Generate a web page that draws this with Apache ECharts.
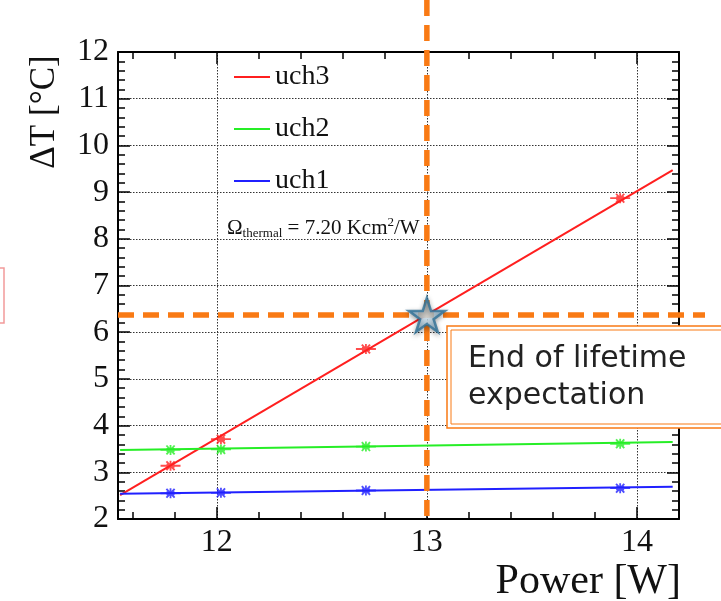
<!DOCTYPE html>
<html><head><meta charset="utf-8">
<script src="https://cdn.jsdelivr.net/npm/echarts@6/dist/echarts.min.js"></script>
<style>html,body{margin:0;padding:0;background:#fff}#c{width:721px;height:601px}</style>
</head><body><div id="c"></div>
<script>
// ---- data ----
const powerX = [11.78, 12.02, 12.71, 13.92];
const uch3 = [3.14, 3.71, 5.64, 8.87];
const uch2 = [3.48, 3.49, 3.55, 3.61];
const uch1 = [2.55, 2.56, 2.61, 2.66];
const fitX = [11.54, 14.17];
const fit3 = [2.51, 9.47];
const fit2 = [3.48, 3.65];
const fit1 = [2.54, 2.69];
const xMajor = [12, 13, 14];
const xMinor = [11.6, 11.8, 12.2, 12.4, 12.6, 12.8, 13.2, 13.4, 13.6, 13.8, 14.2];
const eolPoint = [13, 6.37];
const seriesNames = ['uch3', 'uch2', 'uch1'];
const boxLines = ['End of lifetime', 'expectation'];

const SERIF = 'Liberation Serif';
const ORANGE = '#f97a14';
const colors = { uch3: '#ff1f1f', uch2: '#26ee26', uch1: '#2020ff' };
const AST = 'path://M0,4.1H20V5.9H0Z M9.1,0H10.9V10H9.1Z M5.2,1.2L6.6,0L14.8,8.8L13.4,10Z M13.4,0L14.8,1.2L6.6,10L5.2,8.8Z M6,3H14V7H6Z';
const STAR = 'path://M50,0L61,35L98,35L68,57L79,91L50,70L21,91L32,57L2,35L39,35Z';

const chart = echarts.init(document.getElementById('c'), null, { renderer: 'canvas' });

function pts(ys) { return powerX.map((x, i) => [x, ys[i]]); }
function fit(ys) { return fitX.map((x, i) => [x, ys[i]]); }

const xCommon = { type: 'value', min: 11.53, max: 14.2 };
const frameLine = { show: true, onZero: false, lineStyle: { color: '#000', width: 2 } };

const option = {
  animation: false,
  backgroundColor: '#fff',
  grid: { left: 118, top: 52, right: 42, bottom: 82, containLabel: false },
  legend: {
    orient: 'vertical', left: 229, top: 58, itemWidth: 36, itemHeight: 2, itemGap: 24,
    data: seriesNames.map(n => ({ name: n, icon: 'rect' })),
    textStyle: { fontFamily: SERIF, fontSize: 28, color: '#111', lineHeight: 26 },
    selectedMode: false
  },
  xAxis: [
    Object.assign({}, xCommon, {
      position: 'bottom', axisLine: frameLine,
      axisTick: { inside: true, length: 12, customValues: xMajor, lineStyle: { color: '#000', width: 1.5 } },
      axisLabel: { customValues: xMajor, fontFamily: SERIF, fontSize: 32, color: '#111', margin: 8 },
      splitLine: { show: true, lineStyle: { type: [1.5, 1.5], color: '#333', width: 1 } }
    }),
    Object.assign({}, xCommon, {
      position: 'bottom', axisLine: { show: false },
      axisTick: { inside: true, length: 7, customValues: xMinor, lineStyle: { color: '#000', width: 1.5 } },
      axisLabel: { show: false }, splitLine: { show: false }
    }),
    Object.assign({}, xCommon, {
      position: 'top', axisLine: frameLine,
      axisTick: { inside: true, length: 12, customValues: xMajor, lineStyle: { color: '#000', width: 1.5 } },
      axisLabel: { show: false }, splitLine: { show: false }
    }),
    Object.assign({}, xCommon, {
      position: 'top', axisLine: { show: false },
      axisTick: { inside: true, length: 7, customValues: xMinor, lineStyle: { color: '#000', width: 1.5 } },
      axisLabel: { show: false }, splitLine: { show: false }
    })
  ],
  yAxis: [
    {
      type: 'value', min: 2, max: 12, interval: 1, position: 'left', axisLine: frameLine,
      axisTick: { inside: true, length: 12, lineStyle: { color: '#000', width: 1.5 } },
      minorTick: { show: true, splitNumber: 5, length: 7, lineStyle: { color: '#000', width: 1.5 } },
      axisLabel: { fontFamily: SERIF, fontSize: 32, color: '#111', margin: 9, showMinLabel: true, showMaxLabel: true },
      splitLine: { show: true, lineStyle: { type: [1.5, 1.5], color: '#333', width: 1 } }
    },
    {
      type: 'value', min: 2, max: 12, interval: 1, position: 'right', axisLine: frameLine,
      axisTick: { inside: true, length: 12, lineStyle: { color: '#000', width: 1.5 } },
      minorTick: { show: true, splitNumber: 5, length: 7, lineStyle: { color: '#000', width: 1.5 } },
      axisLabel: { show: false }, splitLine: { show: false }
    }
  ],
  series: []
};

const dataMap = { uch3: [uch3, fit3], uch2: [uch2, fit2], uch1: [uch1, fit1] };
seriesNames.forEach(n => {
  option.series.push({
    name: n, type: 'line', data: fit(dataMap[n][1]), showSymbol: false, symbol: 'none',
    lineStyle: { color: colors[n], width: 2 }, itemStyle: { color: colors[n] }, z: 3, silent: true
  });
  option.series.push({
    name: n, type: 'scatter', data: pts(dataMap[n][0]), symbol: AST, symbolSize: [20, 10],
    itemStyle: { color: colors[n] }, z: 4, silent: true
  });
});
option.series.push({
  name: 'EOL', type: 'scatter', data: [eolPoint], symbol: STAR, symbolSize: [36, 34], z: 20, silent: true,
  itemStyle: {
    color: new echarts.graphic.RadialGradient(0.5, 0.55, 0.6, [
      { offset: 0, color: '#d8eaf4' }, { offset: 1, color: '#6a9fc2' }
    ]),
    borderColor: '#2f7096', borderWidth: 2.5,
    shadowBlur: 5, shadowColor: 'rgba(0,0,0,0.35)', shadowOffsetY: 2
  }
});

chart.setOption(option);

const p = chart.convertToPixel({ xAxisIndex: 0, yAxisIndex: 0 }, eolPoint);
const plotLeft = 118, plotBottom = 519;

chart.setOption({
  graphic: [
    { type: 'line', z: 10, silent: true, shape: { x1: p[0], y1: 0, x2: p[0], y2: plotBottom },
      style: { stroke: ORANGE, lineWidth: 5.5, lineDash: [16, 9] } },
    { type: 'line', z: 10, silent: true, shape: { x1: plotLeft, y1: p[1], x2: 705, y2: p[1] },
      style: { stroke: ORANGE, lineWidth: 5.5, lineDash: [16, 9] } },
    { type: 'rect', z: 11, silent: true, shape: { x: 447, y: 326, width: 300, height: 102 },
      style: { fill: '#fff', stroke: ORANGE, lineWidth: 1.5 } },
    { type: 'rect', z: 11, silent: true, shape: { x: 451, y: 330, width: 300, height: 94 },
      style: { fill: 'none', stroke: ORANGE, lineWidth: 1 } },
    { type: 'text', z: 12, silent: true, x: 468, y: 359,
      style: { text: boxLines[0], font: '30px "DejaVu Sans"', fill: '#222', verticalAlign: 'middle' } },
    { type: 'text', z: 12, silent: true, x: 468, y: 396,
      style: { text: boxLines[1], font: '30px "DejaVu Sans"', fill: '#222', verticalAlign: 'middle' } },
    { type: 'rect', z: 1, silent: true, shape: { x: -20, y: 268, width: 24, height: 55 },
      style: { fill: 'none', stroke: '#f29a9a', lineWidth: 1.5 } },
    { type: 'text', silent: true, x: 45, y: 112, rotation: Math.PI / 2,
      style: { text: 'ΔT [°C]', font: '35px "Liberation Serif"', fill: '#111', align: 'center', verticalAlign: 'middle' } },
    { type: 'text', silent: true, x: 681, y: 582,
      style: { text: 'Power [W]', font: '42px "Liberation Serif"', fill: '#111', align: 'right', verticalAlign: 'middle' } },
    { type: 'text', silent: true, z: 5, x: 227, y: 228,
      style: {
        text: '{a|Ω}{s|thermal}{a| = 7.20 Kcm}{p|2}{a|/W}', verticalAlign: 'middle', fill: '#111',
        rich: {
          a: { fontFamily: SERIF, fontSize: 21, lineHeight: 24, fill: '#111' },
          s: { fontFamily: SERIF, fontSize: 13, padding: [12, 0, 0, 0], lineHeight: 13, fill: '#111' },
          p: { fontFamily: SERIF, fontSize: 13, padding: [0, 0, 11, 0], lineHeight: 13, fill: '#111' }
        }
      } }
  ]
});
</script></body></html>
